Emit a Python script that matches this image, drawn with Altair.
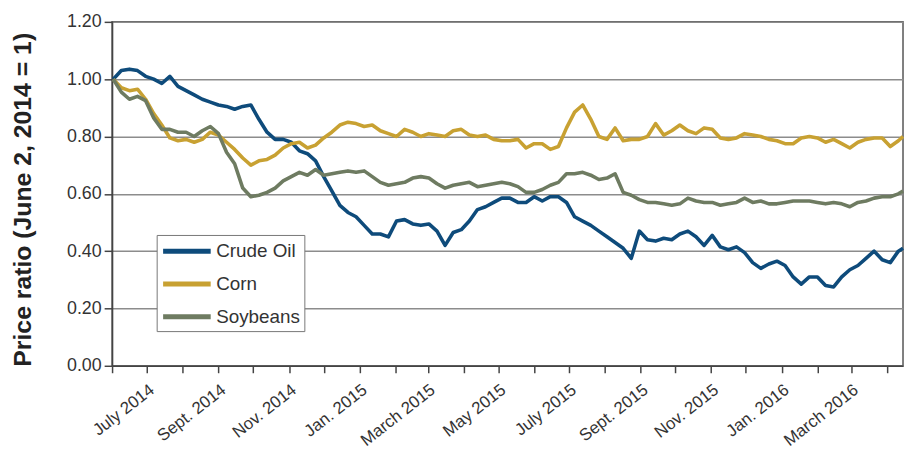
import altair as alt
import pandas as pd

# weekly observation dates (plus final day shown)
dates = [d.strftime("%Y-%m-%d") for d in pd.date_range("2014-06-02", periods=98, freq="7D")] + ["2016-04-15"]

crude_oil = [1.00, 1.03, 1.035, 1.03, 1.01, 1.00, 0.985, 1.01, 0.975, 0.96,
             0.945, 0.93, 0.92, 0.91, 0.905, 0.895, 0.905, 0.91, 0.86, 0.815,
             0.79, 0.79, 0.78, 0.75, 0.74, 0.715, 0.66, 0.61, 0.56, 0.535,
             0.52, 0.49, 0.46, 0.46, 0.45, 0.505, 0.51, 0.495, 0.49, 0.495,
             0.47, 0.42, 0.465, 0.475, 0.505, 0.545, 0.555, 0.57, 0.585, 0.585,
             0.57, 0.57, 0.59, 0.575, 0.59, 0.59, 0.57, 0.52, 0.505, 0.49,
             0.47, 0.45, 0.43, 0.41, 0.375, 0.47, 0.44, 0.435, 0.445, 0.44,
             0.46, 0.47, 0.45, 0.42, 0.455, 0.415, 0.405, 0.415, 0.395, 0.36,
             0.34, 0.355, 0.365, 0.35, 0.31, 0.285, 0.31, 0.31, 0.28, 0.275,
             0.31, 0.335, 0.35, 0.375, 0.40, 0.37, 0.36, 0.40, 0.41]

corn = [1.00, 0.97, 0.96, 0.965, 0.93, 0.88, 0.84, 0.795, 0.785, 0.79,
        0.78, 0.79, 0.815, 0.805, 0.78, 0.755, 0.725, 0.70, 0.715, 0.72,
        0.735, 0.76, 0.775, 0.78, 0.76, 0.77, 0.795, 0.815, 0.84, 0.85,
        0.845, 0.835, 0.84, 0.82, 0.81, 0.80, 0.825, 0.815, 0.80, 0.81,
        0.805, 0.80, 0.82, 0.825, 0.805, 0.80, 0.805, 0.79, 0.785, 0.785,
        0.79, 0.76, 0.775, 0.775, 0.755, 0.765, 0.83, 0.885, 0.91, 0.86,
        0.80, 0.79, 0.83, 0.785, 0.79, 0.79, 0.80, 0.845, 0.805, 0.82,
        0.84, 0.82, 0.81, 0.83, 0.825, 0.795, 0.79, 0.795, 0.81, 0.805,
        0.80, 0.79, 0.785, 0.775, 0.775, 0.795, 0.80, 0.795, 0.78, 0.79,
        0.775, 0.76, 0.78, 0.79, 0.795, 0.795, 0.765, 0.785, 0.80]

soybeans = [1.00, 0.955, 0.93, 0.94, 0.925, 0.865, 0.825, 0.825, 0.815, 0.815,
            0.80, 0.82, 0.835, 0.81, 0.745, 0.705, 0.62, 0.59, 0.595, 0.605,
            0.62, 0.645, 0.66, 0.675, 0.665, 0.685, 0.665, 0.67, 0.675, 0.68,
            0.675, 0.68, 0.66, 0.64, 0.63, 0.635, 0.64, 0.655, 0.66, 0.655,
            0.635, 0.62, 0.63, 0.635, 0.64, 0.625, 0.63, 0.635, 0.64, 0.635,
            0.625, 0.605, 0.605, 0.615, 0.63, 0.64, 0.67, 0.67, 0.675, 0.665,
            0.65, 0.655, 0.67, 0.605, 0.595, 0.58, 0.57, 0.57, 0.565, 0.56,
            0.565, 0.585, 0.575, 0.57, 0.57, 0.56, 0.565, 0.57, 0.585, 0.57,
            0.575, 0.565, 0.565, 0.57, 0.575, 0.575, 0.575, 0.57, 0.565, 0.57,
            0.565, 0.555, 0.57, 0.575, 0.585, 0.59, 0.59, 0.60, 0.61]

series_names = ["Crude Oil", "Corn", "Soybeans"]
series_colors = ["#0e4b7b", "#c8a132", "#6e7b61"]
y_ticks = [0.0, 0.2, 0.4, 0.6, 0.8, 1.0, 1.2]
month_labels = {0: "Jan.", 2: "March", 4: "May", 6: "July", 8: "Sept.", 10: "Nov."}

rows = []
for name, vals in zip(series_names, [crude_oil, corn, soybeans]):
    for d, v in zip(dates, vals):
        rows.append({"date": d, "value": v, "series": name})
df = pd.DataFrame(rows)

# monthly tick positions June 2014 .. April 2016
tick_values = []
y, m = 2014, 6
while (y, m) <= (2016, 4):
    tick_values.append(alt.DateTime(year=y, month=m, date=1, utc=True))
    m += 1
    if m > 12:
        m, y = 1, y + 1

label_expr = " : ".join(
    f"utcmonth(datum.value)=={k} ? '{v} ' + utcyear(datum.value)" for k, v in month_labels.items()
) + " : ''"

FONT = "Liberation Sans"

chart = alt.Chart(df).mark_line(strokeWidth=3.6, strokeJoin="round").encode(
    x=alt.X(
        "date:T",
        scale=alt.Scale(
            type="utc",
            domain=[alt.DateTime(year=2014, month=6, date=1, utc=True),
                    alt.DateTime(year=2016, month=4, date=15, utc=True)],
        ),
        axis=alt.Axis(
            title=None, values=tick_values, labelExpr=label_expr, labelAngle=-38,
            labelAlign="right", labelBaseline="middle", labelPadding=15, labelOffset=5,
            labelOverlap=False, labelFontSize=17, tickSize=7, grid=False,
        ),
    ),
    y=alt.Y(
        "value:Q",
        scale=alt.Scale(domain=[0, 1.2]),
        axis=alt.Axis(
            values=y_ticks, format=".2f", title="Price ratio (June 2, 2014 = 1)",
            titleFontSize=25, titleFontWeight="bold", titleColor="#222",
            titleX=-77, titleY=179, labelFontSize=18, tickSize=8, labelPadding=3,
            grid=True, gridColor="#8c8c8c", gridWidth=1.5,
        ),
    ),
    color=alt.Color(
        "series:N",
        sort=series_names,
        scale=alt.Scale(domain=series_names, range=series_colors),
        legend=alt.Legend(
            title=None, orient="none", legendX=45, legendY=215, direction="vertical",
            symbolType="M-1,0H3.8", symbolSize=400, symbolStrokeWidth=5,
            labelFontSize=19, labelOffset=31, labelColor="#333", labelFont=FONT,
            fillColor="white", strokeColor="#777", padding=4, rowPadding=10,
        ),
    ),
).properties(
    width=798, height=347, autosize="none",
    padding={"left": 105, "top": 12, "right": 1, "bottom": 86},
).configure_view(
    stroke="#555", strokeWidth=1.5
).configure_axis(
    labelFont=FONT, titleFont=FONT, labelColor="#333", domainColor="#444",
    tickColor="#444", domainWidth=1.5, tickWidth=1.5,
)

chart.save("out.html", embed_options={"renderer": "svg", "actions": False})
